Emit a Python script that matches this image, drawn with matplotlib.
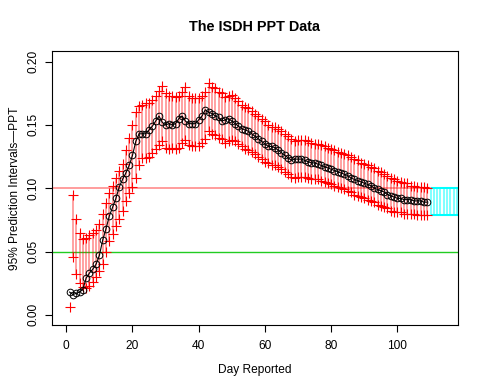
import numpy as np
import matplotlib
matplotlib.use("Agg")
import matplotlib.pyplot as plt

plt.rcParams['font.family'] = ['Liberation Sans', 'DejaVu Sans']

# observed PPT values, days 1..109
days = list(range(1, 110))
ppt = [0.018, 0.016, 0.017, 0.018, 0.020, 0.029, 0.033, 0.036, 0.040, 0.047,
       0.059, 0.068, 0.078, 0.085, 0.092, 0.101, 0.107, 0.112, 0.118, 0.126,
       0.137, 0.143, 0.143, 0.143, 0.146, 0.149, 0.153, 0.157, 0.152, 0.150,
       0.151, 0.150, 0.151, 0.155, 0.157, 0.153, 0.151, 0.151, 0.151, 0.154,
       0.157, 0.162, 0.160, 0.159, 0.157, 0.156, 0.153, 0.154, 0.155, 0.153,
       0.151, 0.149, 0.147, 0.146, 0.145, 0.143, 0.141, 0.139, 0.137, 0.135,
       0.133, 0.133, 0.132, 0.130, 0.128, 0.126, 0.124, 0.122, 0.123, 0.123,
       0.123, 0.122, 0.121, 0.120, 0.120, 0.119, 0.118, 0.117, 0.116, 0.115,
       0.114, 0.113, 0.112, 0.111, 0.110, 0.108, 0.107, 0.106, 0.105, 0.104,
       0.103, 0.102, 0.100, 0.099, 0.098, 0.097, 0.095, 0.094, 0.093, 0.092,
       0.092, 0.091, 0.091, 0.091, 0.090, 0.090, 0.090, 0.089, 0.089]

# 95% prediction interval bounds (day 1 has only a lower value)
lower = [0.0065, 0.046, 0.032, 0.025, 0.022, 0.021, 0.023, 0.026, 0.030, 0.035,
         0.040, 0.050, 0.058, 0.064, 0.070, 0.076, 0.082, 0.090, 0.096, 0.101,
         0.108, 0.118, 0.124, 0.124, 0.125, 0.128, 0.131, 0.134, 0.137, 0.132,
         0.131, 0.132, 0.131, 0.132, 0.136, 0.138, 0.134, 0.133, 0.133, 0.133,
         0.136, 0.139, 0.145, 0.143, 0.142, 0.140, 0.139, 0.136, 0.137, 0.138,
         0.137, 0.135, 0.133, 0.131, 0.130, 0.129, 0.127, 0.125, 0.123, 0.121,
         0.120, 0.118, 0.118, 0.117, 0.115, 0.113, 0.111, 0.109, 0.108, 0.109,
         0.109, 0.109, 0.108, 0.107, 0.107, 0.107, 0.106, 0.105, 0.104, 0.103,
         0.102, 0.101, 0.100, 0.099, 0.098, 0.097, 0.095, 0.094, 0.093, 0.092,
         0.091, 0.090, 0.089, 0.087, 0.086, 0.085, 0.084, 0.082, 0.081, 0.081,
         0.081, 0.080, 0.080, 0.080, 0.080, 0.079, 0.079, 0.079, 0.079]
upper = [np.nan, 0.095, 0.076, 0.065, 0.060, 0.061, 0.063, 0.065, 0.067, 0.072,
         0.080, 0.088, 0.096, 0.102, 0.108, 0.114, 0.119, 0.130, 0.140, 0.150,
         0.160, 0.165, 0.166, 0.167, 0.167, 0.170, 0.173, 0.177, 0.181, 0.175,
         0.173, 0.173, 0.172, 0.173, 0.176, 0.180, 0.173, 0.171, 0.171, 0.171,
         0.173, 0.176, 0.183, 0.180, 0.179, 0.176, 0.175, 0.172, 0.173, 0.174,
         0.171, 0.169, 0.166, 0.164, 0.163, 0.161, 0.159, 0.157, 0.155, 0.153,
         0.150, 0.148, 0.148, 0.147, 0.145, 0.143, 0.141, 0.139, 0.137, 0.138,
         0.138, 0.138, 0.137, 0.136, 0.135, 0.135, 0.134, 0.133, 0.132, 0.131,
         0.130, 0.129, 0.128, 0.127, 0.126, 0.125, 0.123, 0.122, 0.120, 0.119,
         0.118, 0.117, 0.116, 0.114, 0.113, 0.111, 0.110, 0.108, 0.107, 0.106,
         0.105, 0.104, 0.104, 0.102, 0.102, 0.101, 0.101, 0.101, 0.100]

# forecast band after the last day
fc_days = [110, 111, 112, 113, 114, 115, 116, 117, 118]
fc_lower = 0.079
fc_upper = 0.100

fig = plt.figure(figsize=(4.85, 3.90), dpi=100)
ax = fig.add_axes([0.1066, 0.1667, 0.8377, 0.7013])

# reference lines
ax.axhline(0.10, color=(1, 0, 0, 0.45), lw=1.2, zorder=1)
ax.axhline(0.05, color='#22cc22', lw=1.0, zorder=1)

# interval whiskers
ax.vlines(days, lower, upper, color=(1, 0, 0, 0.4), lw=1.3, zorder=2)
ax.plot(days, lower, ls='none', marker='+', color='red', ms=7, mew=0.8, zorder=3)
ax.plot(days, upper, ls='none', marker='+', color='red', ms=7, mew=0.8, zorder=3)

# forecast band
ax.vlines(fc_days, fc_lower, fc_upper, color=(0, 1, 1, 0.5), lw=1.4, zorder=2)
ax.hlines([fc_lower, fc_upper], 110, 120, color='cyan', lw=1.5, zorder=2)

# observed
ax.plot(days, ppt, color='black', lw=0.8, marker='o', mfc='none', mec='black',
        ms=4.8, mew=0.7, zorder=4)

ax.set_xlim(-4.4, 118.3)
ax.set_ylim(-0.008, 0.208)
ax.set_xticks([0, 20, 40, 60, 80, 100])
ax.set_yticks([0.00, 0.05, 0.10, 0.15, 0.20])
ax.set_yticklabels(['0.00', '0.05', '0.10', '0.15', '0.20'], rotation=90, va='center')
ax.tick_params(direction='out', length=5, width=0.8, labelsize=8.6)
ax.tick_params(axis='x', pad=6)
ax.tick_params(axis='y', pad=4)
for s in ax.spines.values():
    s.set_linewidth(0.8)

fig.text(0.5256, 0.931, 'The ISDH PPT Data', ha='center', va='center',
         fontsize=10.4, fontweight='bold')
fig.text(0.5256, 0.051, 'Day Reported', ha='center', va='center', fontsize=8.6)
fig.text(0.031, 0.5167, '95% Prediction Intervals\u2014PPT', ha='center', va='center',
         rotation=90, fontsize=8.6)

fig.savefig('out.png', dpi=100)
